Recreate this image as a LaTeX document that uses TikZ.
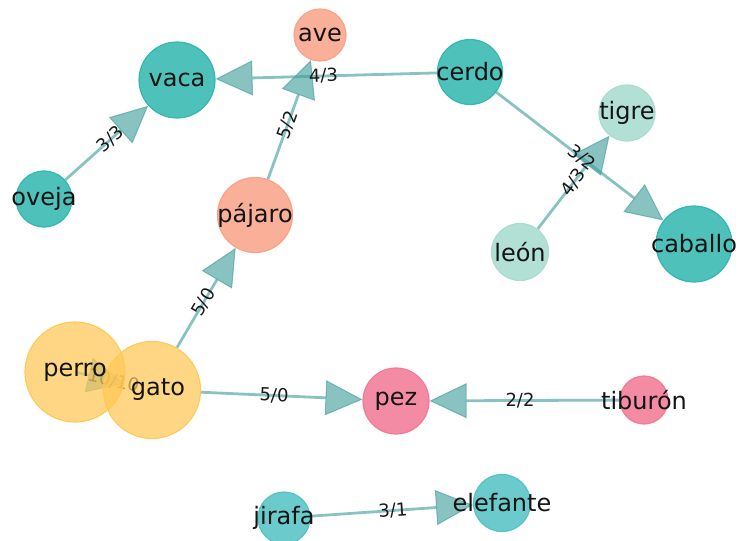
\documentclass[tikz,border=0pt]{standalone}
\usepackage{fontspec}
\setmainfont{DejaVu Sans}
\usetikzlibrary{arrows.meta,calc}
\pgfdeclarelayer{bg}
\pgfsetlayers{bg,main}
\definecolor{tealA}{HTML}{2EB6AE}
\definecolor{tealB}{HTML}{51C1C2}
\definecolor{mint}{HTML}{A6DBCD}
\definecolor{salmon}{HTML}{F8A186}
\definecolor{yel}{HTML}{FFC855}
\definecolor{pinkc}{HTML}{F27794}
\definecolor{edgec}{HTML}{3F9E9C}
\tikzset{
  nd/.style 2 args={circle, inner sep=0pt, minimum size=#2, fill=#1, draw=#1,
     fill opacity=0.85, draw opacity=0.95, line width=1.2pt},
  ntext/.style={font=\fontsize{24}{28}\selectfont, text=black!92},
  edge/.style={draw=edgec, line width=2.8pt, opacity=0.62,
     -{Triangle[length=37pt,width=35pt,line width=1pt,fill=edgec]}},
  elabel/.style={font=\fontsize{18}{21}\selectfont, sloped, inner sep=0pt, text=black!90}
}
\begin{document}
\begin{tikzpicture}[x=1pt,y=-1pt]
\useasboundingbox (0,0) rectangle (742,541);
% nodes
\node[nd={tealA}{76pt}] (vaca) at (177,80) {};
\node[nd={salmon}{52pt}] (ave) at (320,35) {};
\node[nd={tealA}{65pt}] (cerdo) at (470,72) {};
\node[nd={mint}{56pt}] (tigre) at (627,113) {};
\node[nd={tealA}{56pt}] (oveja) at (44,199) {};
\node[nd={salmon}{75pt}] (pajaro) at (255,215) {};
\node[nd={mint}{57pt}] (leon) at (520,252) {};
\node[nd={tealA}{76pt}] (caballo) at (694,244) {};
\node[nd={yel}{100pt}, fill opacity=0.72] (perro) at (75,372) {};
\node[nd={yel}{97pt}, fill opacity=0.72] (gato) at (152,390) {};
\node[nd={pinkc}{66pt}] (pez) at (396,401) {};
\node[nd={pinkc}{48pt}] (tiburon) at (644,400) {};
\node[nd={tealB}{52pt}] (jirafa) at (284,518) {};
\node[nd={tealB}{57pt}] (elefante) at (502,503) {};
% node texts
\node[ntext] at (vaca) {vaca};
\node[ntext] at (ave) {ave};
\node[ntext] at (cerdo) {cerdo};
\node[ntext] at (tigre) {tigre};
\node[ntext] at (oveja) {oveja};
\node[ntext] at (pajaro) {pájaro};
\node[ntext] at (leon) {león};
\node[ntext] at (caballo) {caballo};
\node[ntext] at (perro) {perro};
\node[ntext] at ($(gato.center)+(6,0)$) {gato};
\node[ntext] at (pez) {pez};
\node[ntext] at (tiburon) {tiburón};
\node[ntext] at (jirafa) {jirafa};
\node[ntext] at (elefante) {elefante};
% edges
\begin{pgfonlayer}{bg}
\draw[edge] (oveja) -- (vaca);
\draw[edge] (cerdo) -- (vaca);
\draw[edge] (pajaro) -- (ave);
\draw[edge] (gato) -- (pajaro);
\draw[edge] (gato) -- (pez);
\draw[edge] (tiburon) -- (pez);
\draw[edge] (cerdo) -- (caballo);
\draw[edge] (leon) -- (tigre);
\draw[edge] (jirafa) -- (elefante);
\draw[edge] (perro.center) -- ($(gato.center)!28pt!(perro.center)$);
% edge labels
\path (oveja.center) -- node[elabel]{3/3} (vaca.center);
\path (cerdo.center) -- node[elabel]{4/3} (vaca.center);
\path (pajaro.center) -- node[elabel]{5/2} (ave.center);
\path (gato.center) -- node[elabel]{5/0} (pajaro.center);
\path (gato.center) -- node[elabel]{5/0} (pez.center);
\path (tiburon.center) -- node[elabel]{2/2} (pez.center);
\path (cerdo.center) -- node[elabel]{3/2} (caballo.center);
\path (leon.center) -- node[elabel]{4/3} (tigre.center);
\path (jirafa.center) -- node[elabel]{3/1} (elefante.center);
\path (perro.center) -- node[elabel]{10/10} (gato.center);
\end{pgfonlayer}
\end{tikzpicture}
\end{document}
